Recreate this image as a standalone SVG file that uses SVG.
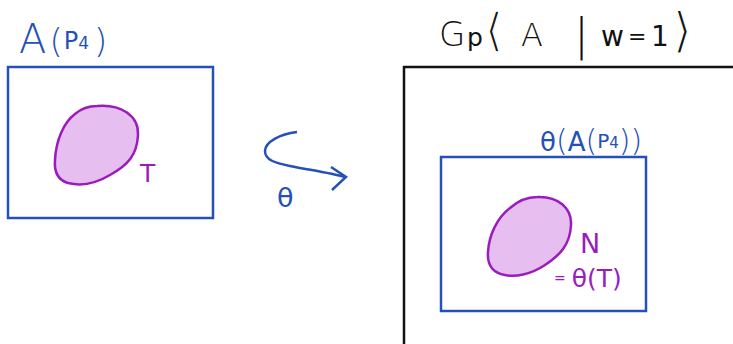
<svg xmlns="http://www.w3.org/2000/svg" width="733" height="344" viewBox="0 0 733 344">
<style>
.blue{stroke:#2450b8;fill:none;stroke-width:2.5}
.black{stroke:#111;fill:none;stroke-width:2.5}
.blob{stroke:#9a1cbc;fill:#e6bef0;stroke-width:2.5}
.tb{fill:#2450b8;font-family:"DejaVu Sans",sans-serif}
.tk{fill:#111;font-family:"DejaVu Sans",sans-serif}
.tp{fill:#9a1cbc;font-family:"DejaVu Sans",sans-serif}
.br{fill:#111;stroke:#fff;stroke-width:1.4;font-family:"DejaVu Sans",sans-serif}
</style>
<rect width="733" height="344" fill="#fff"/>
<g id="node-A">
<rect class="blue" x="8" y="67" width="205" height="151"/>
<text class="tb" x="19" y="53" font-size="40" font-weight="300">A<tspan font-size="34" dx="3" dy="0">(</tspan><tspan font-size="24" dx="1" dy="-4" font-weight="normal">P</tspan><tspan font-size="17" font-weight="normal">4</tspan><tspan font-size="34" dx="5" dy="4">)</tspan></text>
</g>
<g id="node-T">
<path class="blob" d="M97,106 C120,104 139,115 138,135 C137,155 128,165 110,175 C95,184 80,186 68,183 C58,180 54,172 55,160 C56,140 64,122 75,114 C82,108 90,106 97,106 Z"/>
<text class="tp" x="140" y="182" font-size="25">T</text>
</g>
<g id="node-G">
<path class="black" d="M404,344 V67 H733"/>
<text class="tk" y="46" font-size="34"><tspan x="439" font-weight="300">G</tspan><tspan x="467" font-size="25">p</tspan><tspan x="521" font-size="32" font-weight="300">A</tspan><tspan x="574" font-size="44" dy="4" font-weight="300">|</tspan><tspan x="601" font-size="28" dy="-4">w</tspan><tspan x="628" font-size="22" dy="-2">=</tspan><tspan x="651" font-size="28" dy="2">1</tspan></text>
<text class="br" x="485" y="46" font-size="46">⟨</text>
<text class="br" x="673" y="47" font-size="48">⟩</text>
</g>
<g id="node-thetaA">
<rect class="blue" x="441" y="157" width="205" height="154"/>
<text class="tb" x="540" y="151" font-size="26">θ<tspan font-size="30" font-weight="300">(</tspan><tspan>A</tspan><tspan font-size="30" font-weight="300">(</tspan><tspan font-size="20" dy="-3">P</tspan><tspan font-size="15">4</tspan><tspan font-size="30" dy="3" font-weight="300">))</tspan></text>
</g>
<g id="node-N">
<path class="blob" d="M537,197 C558,196 572,208 571,225 C570,245 560,255 545,265 C530,275 515,277 505,275 C493,273 487,266 488,252 C489,235 497,218 510,208 C518,201 528,197 537,197 Z"/>
<text class="tp" x="580" y="253" font-size="27">N</text>
<text class="tp" x="554" y="287" font-size="25"><tspan font-size="14" dy="-4">=</tspan><tspan dx="6" dy="4">θ(T)</tspan></text>
</g>
<g id="connectors">
<path class="blue" d="M297,132 C280,134 265,142 265,151 C265,160 275,163 290,166 C310,170 330,173 345,177"/>
<path class="blue" d="M331,167 L346,177 L332,190"/>
<text class="tb" x="277" y="207" font-size="27">θ</text>
</g>
</svg>
